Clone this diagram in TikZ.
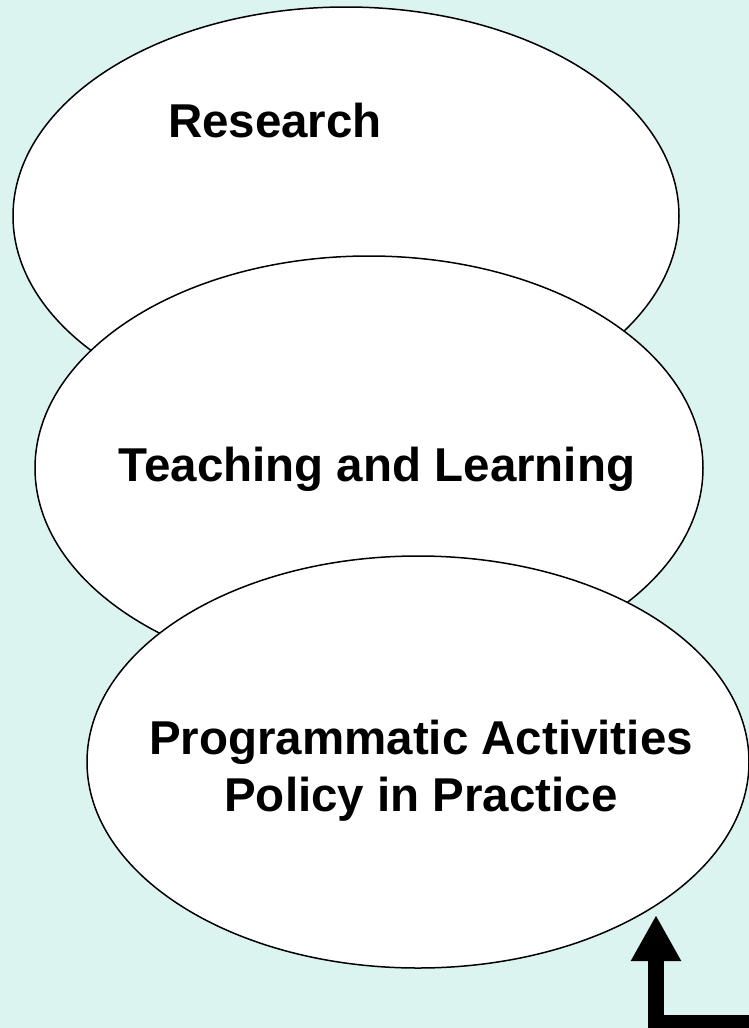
\documentclass[tikz,border=0pt]{standalone}
\usepackage{fontspec}
\setmainfont{Liberation Sans}
\usetikzlibrary{shapes.geometric,arrows.meta}
\definecolor{bgcyan}{RGB}{220,244,240}
\tikzset{
  bubble/.style={ellipse, draw=black, fill=white, line width=1.5pt, inner sep=0pt},
  caption/.style={font=\bfseries\fontsize{47.5}{57}\selectfont, anchor=base, inner sep=0pt, align=center},
  bigarrow/.style={line width=16pt, -{Triangle[width=47pt,length=46pt]}, line join=miter}
}
\begin{document}
\begin{tikzpicture}[x=1pt,y=-1pt]
\fill[bgcyan] (0,0) rectangle (749,1028);
\useasboundingbox (0,0) rectangle (749,1028);
\node[bubble, minimum width=666pt, minimum height=418pt] (research) at (346,216) {};
\node[bubble, minimum width=668pt, minimum height=424pt] (teaching) at (369,468) {};
\node[bubble, minimum width=662pt, minimum height=412pt] (prog) at (418,762) {};
\node[caption] (tres) at (275,137) {Research};
\node[caption] (tteach) at (377,481) {Teaching and Learning};
\node[caption] (tprog1) at (421,754) {Programmatic Activities};
\node[caption] (tprog2) at (421,811) {Policy in Practice};
\coordinate (start) at (760,1023);
\coordinate (tip) at (656,915);
\draw[bigarrow] (start) -| (tip);
\end{tikzpicture}
\end{document}
